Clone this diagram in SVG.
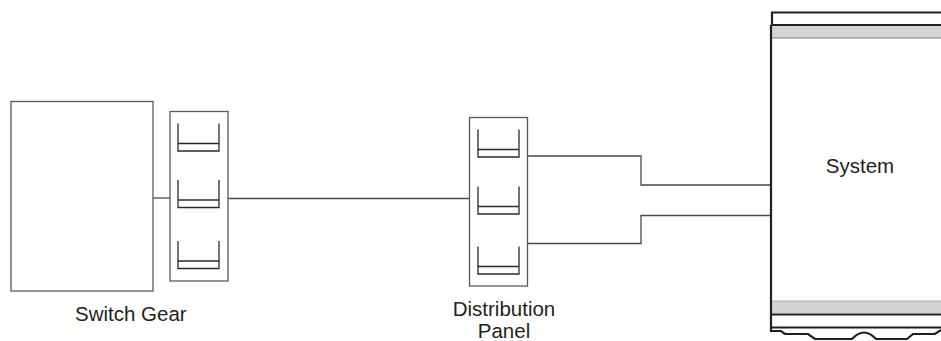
<svg xmlns="http://www.w3.org/2000/svg" xmlns:xlink="http://www.w3.org/1999/xlink" width="941" height="341" viewBox="0 0 941 341">
<style>
  .box{fill:#fff;stroke:#5a5a5a;stroke-width:1.3}
  .cup{fill:none;stroke:#2a2a2a;stroke-width:1.3}
  .wire{fill:none;stroke:#4a4a4a;stroke-width:1.3}
  .lbl{font-family:"Liberation Sans",Arial,sans-serif;font-size:20.5px;fill:#231f20}
  .heavy{fill:none;stroke:#231f20;stroke-width:2.2}
</style>
<defs>
  <g id="cup">
    <path class="cup" d="M0,0 V27.5 H41 V0 M0,20 H41"/>
  </g>
</defs>
<rect width="941" height="341" fill="#fff"/>
<g id="connectors">
  <path class="wire" d="M153,198 H170"/>
  <path class="wire" d="M228,198.5 H469.5"/>
  <path class="wire" d="M527.5,156 H641 V185 H770"/>
  <path class="wire" d="M527.5,243.5 H641 V215.5 H770"/>
</g>
<g id="switch-gear">
  <rect class="box" x="11" y="101.5" width="142" height="189.5"/>
  <text class="lbl" x="75" y="321">Switch Gear</text>
</g>
<g id="switch-breakers">
  <rect class="box" x="170" y="111.5" width="58" height="169.5"/>
  <use xlink:href="#cup" href="#cup" x="178" y="123.5"/>
  <use xlink:href="#cup" href="#cup" x="178" y="180"/>
  <use xlink:href="#cup" href="#cup" x="178" y="241"/>
</g>
<g id="distribution-panel">
  <rect class="box" x="469.5" y="117.5" width="58" height="168.5"/>
  <use xlink:href="#cup" href="#cup" x="478" y="129.5"/>
  <use xlink:href="#cup" href="#cup" x="478" y="186.5"/>
  <use xlink:href="#cup" href="#cup" x="478" y="246.5"/>
  <text class="lbl" x="504" y="316" text-anchor="middle">Distribution</text>
  <text class="lbl" x="504" y="338" text-anchor="middle">Panel</text>
</g>
<g id="system">
  <path fill="#fff" d="M771,12 H941 V330 L935,334 H913 L907,339 H876 Q864,326 852,339 H815 L808,334 H785 L781,331 H771 Z"/>
  <rect x="771" y="26" width="171" height="11.5" fill="#d4d4d4"/>
  <path d="M771,37.8 H941" stroke="#8a8a8a" stroke-width="1.2" fill="none"/>
  <rect x="771" y="301" width="171" height="12.5" fill="#d4d4d4"/>
  <path d="M771,301 H941" stroke="#a0a0a0" stroke-width="0.8" fill="none"/>
  <path class="heavy" d="M772,25 V12.5 H941"/>
  <path class="heavy" d="M771,25 H941"/>
  <path class="heavy" d="M771,314.5 H941" stroke-width="3"/>
  <path class="heavy" d="M771,327.5 H941"/>
  <path class="heavy" d="M771,25 V331 H781 L785,334 H808 L815,339 H852 Q864,326 876,339 H907 L913,334 H935 L941,330"/>
  <text class="lbl" x="860" y="173" text-anchor="middle" font-size="21">System</text>
</g>
</svg>
